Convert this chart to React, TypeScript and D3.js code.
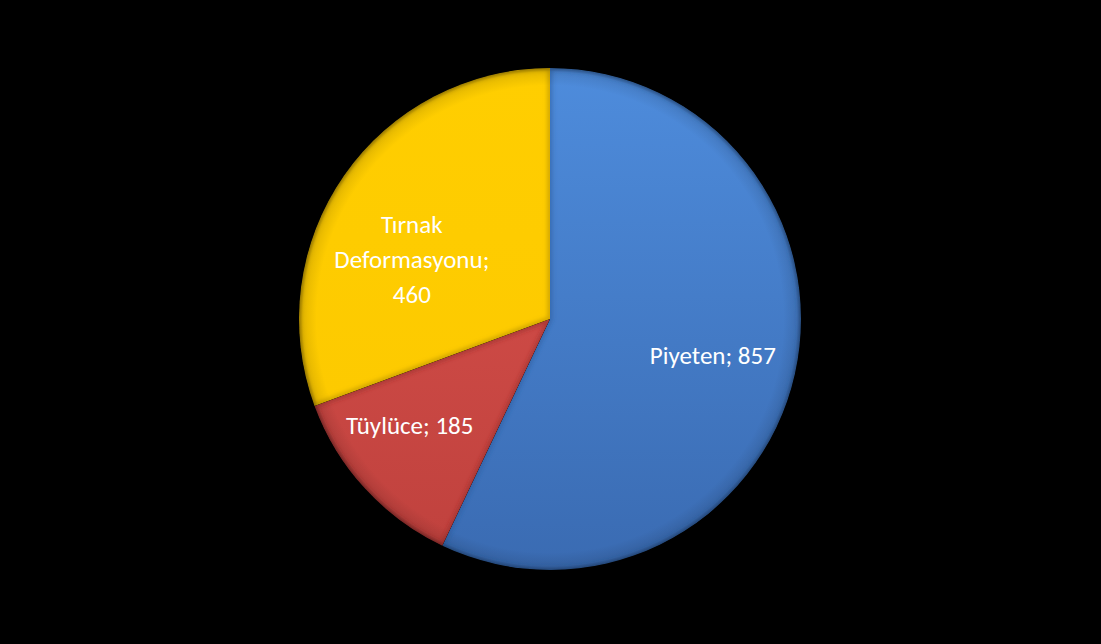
import React from "react";
import * as d3 from "d3";

const categories = ["Piyeten", "Tüylüce", "Tırnak Deformasyonu"];
const values = [857, 185, 460];
const labelLines = [["Piyeten; 857"], ["Tüylüce; 185"], ["Tırnak", "Deformasyonu;", "460"]];
const colorsTop = ["#4E8CDC", "#DA524D", "#FFCE00"];
const colorsBottom = ["#3A6BB2", "#BF413D", "#FCC800"];
const edgeColors = ["#2C5A9A", "#8E2C29", "#A88300"];
const labelRadiusFactor = [0.665, 0.7, 0.6];
const labelAngleShift = [0, 0.094, -0.2];

const W = 1101, H = 644;
const cx = 550, cy = 319, R = 251;

export default function App() {
  const pie = d3.pie<number>().sort(null).value((d) => d)(values);
  const arc = d3.arc<d3.PieArcDatum<number>>().innerRadius(0).outerRadius(R);
  return (
    <svg width={W} height={H} style={{ position: "absolute", left: 0, top: 0, background: "#000" }}>
      <defs>
        {categories.map((c, i) => (
          <linearGradient key={c} id={`g${i}`} gradientUnits="userSpaceOnUse" x1={0} y1={-R} x2={0} y2={R}>
            <stop offset="0" stopColor={colorsTop[i]} />
            <stop offset="1" stopColor={colorsBottom[i]} />
          </linearGradient>
        ))}
        {pie.map((p, i) => (
          <clipPath key={i} id={`c${i}`}>
            <path d={arc(p) || ""} />
          </clipPath>
        ))}
        <filter id="blur" x="-10%" y="-10%" width="120%" height="120%">
          <feGaussianBlur stdDeviation="2" />
        </filter>
        <radialGradient id="rim" gradientUnits="userSpaceOnUse" cx={0} cy={0} r={R}>
          <stop offset="0.93" stopColor="#000" stopOpacity="0" />
          <stop offset="0.985" stopColor="#000" stopOpacity="0.1" />
          <stop offset="1" stopColor="#000" stopOpacity="0.3" />
        </radialGradient>
      </defs>
      <rect x={0} y={0} width={W} height={H} fill="#000" />
      <g transform={`translate(${cx},${cy})`}>
        {pie.map((p, i) => (
          <g key={i} clipPath={`url(#c${i})`}>
            <path d={arc(p) || ""} fill={`url(#g${i})`} />
            <path d={arc(p) || ""} fill="none" stroke={edgeColors[i]} strokeOpacity={0.55} strokeWidth={5} filter="url(#blur)" />
          </g>
        ))}
        <circle r={R} fill="url(#rim)" />
        {pie.map((p, i) => {
          const a = (p.startAngle + p.endAngle) / 2 + labelAngleShift[i];
          const r = R * labelRadiusFactor[i];
          const x = Math.sin(a) * r;
          const y = -Math.cos(a) * r;
          const lines = labelLines[i];
          const lh = 35;
          return (
            <text key={i} x={x} y={y} textAnchor="middle" fill="#fff" fontFamily="Carlito, Lato, 'Open Sans', sans-serif" fontSize={25}>
              {lines.map((l, j) => (
                <tspan key={j} x={x} y={y + (j - (lines.length - 1) / 2) * lh} dy="0.35em">{l}</tspan>
              ))}
            </text>
          );
        })}
      </g>
    </svg>
  );
}
